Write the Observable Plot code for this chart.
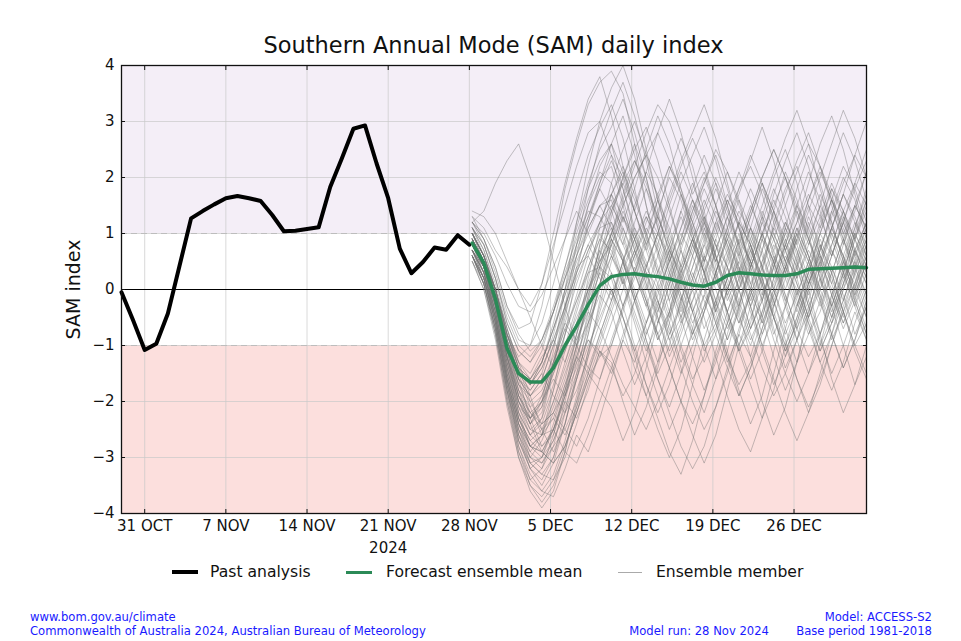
<!DOCTYPE html>
<html><head><meta charset="utf-8">
<script src="https://cdn.jsdelivr.net/npm/d3@7"></script>
<script src="https://cdn.jsdelivr.net/npm/@observablehq/plot@0.6"></script>
<style>
body{margin:0;background:#fff;}
#wrap{position:relative;width:961px;height:641px;font-family:"DejaVu Sans",sans-serif;overflow:hidden;}
#chart{position:absolute;left:0;top:0;}
#title{position:absolute;left:121px;width:745px;top:34px;line-height:23px;text-align:center;font-size:22.5px;color:#111;white-space:nowrap;}
.leg{position:absolute;top:563px;height:18px;line-height:18px;font-size:15.6px;color:#111;white-space:nowrap;}
.sw{position:absolute;top:572px;height:0;}
.foot{position:absolute;font-family:"DejaVu Sans Condensed","DejaVu Sans",sans-serif;font-stretch:condensed;font-size:12.9px;line-height:13px;height:13px;color:#1a1aff;white-space:nowrap;}
</style></head><body>
<div id="wrap">
  <div id="chart"></div>
  <div id="title">Southern Annual Mode (SAM) daily index</div>
  <div class="sw" style="left:172px;width:26px;border-top:4px solid #000;margin-top:-2px"></div>
  <div class="leg" style="left:210px">Past analysis</div>
  <div class="sw" style="left:346px;width:26px;border-top:3px solid #2b8a57;margin-top:-1px"></div>
  <div class="leg" style="left:386px">Forecast ensemble mean</div>
  <div class="sw" style="left:618px;width:24px;border-top:1px solid #aaa;"></div>
  <div class="leg" style="left:656px">Ensemble member</div>
  <div class="foot" style="left:30px;top:610px">www.bom.gov.au/climate</div>
  <div class="foot" style="left:30px;top:624px">Commonwealth of Australia 2024, Australian Bureau of Meteorology</div>
  <div class="foot" style="right:29px;top:610px;text-align:right">Model: ACCESS-S2</div>
  <div class="foot" style="right:29px;top:624px;text-align:right">Base period 1981-2018</div>
  <div class="foot" style="right:192px;top:624px;text-align:right">Model run: 28 Nov 2024</div>
</div>
<script>
// ---- data ----
const pastStart = "2024-10-29T00:00:00Z";
const pastValues = [-0.05,-0.55,-1.08,-0.97,-0.43,0.42,1.27,1.40,1.52,1.63,1.67,1.63,1.58,1.33,1.04,1.05,1.08,1.11,1.83,2.34,2.87,2.93,2.25,1.63,0.73,0.29,0.49,0.75,0.71,0.97,0.80];

const forecastStart = "2024-11-28T06:00:00Z";
const meanValues = [0.83,0.47,-0.17,-1.05,-1.50,-1.65,-1.65,-1.40,-1.00,-0.65,-0.27,0.07,0.23,0.27,0.28,0.25,0.23,0.19,0.13,0.08,0.06,0.13,0.25,0.30,0.28,0.26,0.25,0.25,0.28,0.36,0.37,0.38,0.39,0.40,0.39];

const ensembleMembers = [
[0.9,0.5,-0.2,-1.1,-1.8,-2.1,-1.9,-1.3,-0.6,0.1,0.7,1.1,1.2,0.5,-0.2,-0.8,-0.3,0.6,1.4,1.9,1.3,0.4,-0.5,-1.1,-0.6,0.3,1.2,1.8,2.2,1.5,0.6,0.1,0.8,1.5,1.1],
[0.8,0.4,-0.3,-1.3,-2.2,-2.8,-2.6,-1.8,-0.8,0.3,1.2,1.9,2.6,3.1,2.4,1.5,0.7,-0.2,-1.0,-1.6,-1.2,-0.3,0.6,1.2,0.8,0.1,-0.7,-1.4,-0.9,0.0,0.7,1.3,1.9,2.4,2.0],
[1.0,0.6,0.0,-0.8,-1.2,-1.0,-0.3,0.7,1.8,2.6,3.3,3.7,3.9,3.5,2.6,1.5,0.6,0.0,-0.6,-0.2,0.5,1.1,1.6,1.2,0.3,-0.5,-1.2,-1.8,-1.3,-0.4,0.4,1.0,0.6,-0.2,-0.8],
[0.6,0.2,-0.5,-1.6,-2.6,-3.2,-3.5,-3.1,-2.4,-1.6,-0.8,0.1,1.0,0.6,-0.1,-0.9,-1.6,-2.1,-1.5,-0.7,0.2,0.9,0.4,-0.4,-1.2,-2.0,-2.6,-2.1,-1.3,-0.5,0.2,-0.3,-1.0,-1.7,-1.2],
[0.9,0.5,-0.1,-0.9,-1.5,-1.7,-1.4,-0.9,-0.3,0.3,0.8,1.2,1.5,1.9,1.4,0.8,1.3,2.1,2.7,2.2,1.4,0.6,-0.2,0.3,1.1,1.8,1.3,0.7,1.2,1.9,2.6,3.1,2.5,1.7,1.0],
[0.6,0.2,-0.5,-1.4,-2.1,-2.3,-1.9,-1.3,-0.7,-0.2,0.3,0.4,0.0,-0.7,-1.4,-1.9,-1.3,-0.4,0.5,1.2,1.8,1.3,0.6,0.0,0.6,1.3,2.0,2.5,1.9,1.0,0.2,-0.5,0.1,0.9,1.6],
[0.8,0.5,0.0,-0.7,-1.3,-1.9,-2.5,-2.9,-2.4,-1.5,-0.6,0.4,1.3,2.0,2.6,2.0,1.1,0.3,-0.4,0.2,0.9,1.5,2.1,1.6,0.8,0.0,-0.8,-0.3,0.5,1.2,0.6,-0.1,-0.7,-0.2,0.5],
[1.2,0.9,0.3,-0.4,-0.9,-1.0,-0.6,0.1,0.9,1.7,2.4,2.9,3.3,2.7,1.8,0.9,0.3,0.8,1.4,0.9,0.1,-0.6,-1.3,-0.8,0.0,0.9,1.7,2.3,2.8,2.2,1.4,0.6,1.2,1.9,2.5],
[0.5,0.1,-0.7,-1.9,-2.9,-3.5,-3.8,-3.5,-2.9,-2.1,-1.2,-0.2,0.9,0.5,-0.2,-0.9,-1.5,-1.0,-0.2,0.6,1.3,0.8,0.1,-0.5,-1.0,-0.4,0.4,1.1,0.7,0.0,-0.8,-1.6,-2.2,-1.7,-1.0],
[1.0,0.6,0.0,-0.8,-1.4,-1.6,-1.3,-0.7,0.0,0.6,1.1,1.5,1.6,0.9,0.3,0.9,1.6,2.2,1.7,1.0,0.3,-0.4,0.2,0.9,1.5,1.0,0.4,-0.3,-0.9,-0.4,0.4,1.1,1.7,1.3,0.7],
[0.8,0.4,-0.2,-1.0,-1.7,-2.2,-2.4,-2.2,-1.8,-1.3,-0.9,-1.1,-1.3,-2.0,-2.6,-2.1,-1.4,-0.6,0.2,0.8,0.3,-0.4,-1.1,-1.8,-2.4,-1.9,-1.1,-0.3,0.4,0.9,0.4,-0.3,0.3,1.0,0.5],
[0.9,0.5,-0.2,-1.1,-1.9,-2.3,-2.0,-1.1,0.0,1.2,2.2,3.0,3.6,4.0,3.4,2.5,1.6,0.9,0.3,0.9,1.5,2.0,1.5,0.8,0.1,0.7,1.4,2.1,1.6,0.9,1.5,2.2,2.8,2.3,1.6],
[0.7,0.3,-0.4,-1.5,-2.4,-3.0,-3.2,-2.8,-2.0,-1.1,-0.1,0.8,1.5,1.1,0.5,-0.2,-0.9,-0.4,0.4,1.1,1.6,1.1,0.4,-0.3,0.4,1.0,0.5,-0.2,-0.9,-1.5,-1.0,-0.2,0.6,1.2,0.8],
[1.0,0.6,0.0,-0.9,-1.6,-1.8,-1.5,-0.8,0.0,0.8,1.5,2.0,2.2,1.5,0.7,0.0,0.6,1.3,1.9,2.4,2.9,2.3,1.5,0.7,0.0,-0.6,0.0,0.8,1.5,2.1,1.6,0.9,0.3,-0.3,0.3],
[0.6,0.1,-0.7,-1.8,-2.8,-3.4,-3.6,-3.3,-2.7,-1.9,-1.1,-0.4,0.3,-0.3,-1.0,-1.7,-2.3,-2.9,-3.3,-2.7,-1.9,-1.1,-0.4,0.2,-0.4,-1.1,-1.7,-1.2,-0.5,0.2,0.8,0.3,-0.4,-1.0,-0.6],
[1.1,0.8,0.2,-0.5,-1.0,-1.2,-0.9,-0.3,0.4,1.1,1.8,2.3,2.6,1.8,1.0,0.3,-0.4,0.2,0.9,1.6,1.1,0.5,1.1,1.8,2.4,1.9,1.2,0.5,-0.1,0.5,1.2,1.8,1.3,0.6,1.2],
[0.7,0.3,-0.4,-1.3,-2.0,-2.3,-2.0,-1.4,-0.8,-0.2,0.4,0.9,0.7,0.1,0.7,1.3,0.8,0.2,-0.5,-1.2,-1.8,-1.3,-0.6,0.1,0.8,1.4,0.9,0.3,0.9,1.6,2.2,1.7,1.0,0.4,-0.2],
[0.7,0.4,-0.1,-0.9,-1.6,-2.3,-2.8,-2.6,-1.8,-0.8,0.2,1.1,1.9,2.5,3.0,2.4,1.6,0.8,0.1,-0.6,-0.1,0.7,1.3,0.8,0.1,-0.5,0.2,0.9,0.4,-0.3,-1.0,-0.5,0.3,1.0,1.6],
[1.3,0.9,0.4,-0.3,-0.7,-0.6,0.1,1.0,1.9,2.7,3.4,3.8,3.1,2.2,1.4,2.1,2.8,3.4,2.8,2.0,1.2,0.5,1.1,1.7,2.3,2.9,2.3,1.5,0.8,1.4,2.0,2.6,3.2,2.7,2.0],
[0.8,0.4,-0.3,-1.2,-2.0,-2.5,-2.6,-2.3,-1.7,-1.2,-1.5,-1.8,-2.1,-2.7,-2.2,-1.4,-0.6,0.1,0.7,0.2,-0.5,-1.2,-1.9,-2.5,-2.9,-2.3,-1.5,-0.7,0.0,-0.6,-1.3,-0.8,0.0,0.7,0.3],
[0.9,0.5,-0.1,-1.0,-1.7,-1.9,-1.6,-1.0,-0.3,0.4,0.6,0.2,-0.2,0.5,1.2,1.8,1.3,0.7,0.0,0.6,1.2,1.8,1.3,0.6,-0.1,-0.8,-0.3,0.4,1.0,0.5,-0.2,-0.9,-0.4,0.3,0.9],
[1.2,1.4,1.9,2.3,2.6,2.0,1.3,0.5,-0.3,-1.0,-0.6,0.0,0.6,1.3,0.8,0.1,-0.6,-0.1,0.7,1.4,2.0,1.5,0.7,0.0,-0.7,-0.2,0.5,1.2,0.7,0.1,0.7,1.4,2.0,1.6,0.9],
[0.8,0.4,-0.3,-1.2,-2.0,-2.4,-2.1,-1.3,-0.3,0.8,1.8,2.6,3.2,3.7,3.1,2.3,1.4,0.6,-0.1,-0.7,-1.3,-0.8,0.0,0.7,1.3,1.9,1.4,0.7,0.1,-0.5,0.1,0.8,1.4,0.9,0.3],
[0.6,0.2,-0.6,-1.7,-2.6,-3.1,-3.3,-3.0,-2.4,-1.6,-0.8,0.1,0.8,1.4,0.9,0.2,-0.5,-1.2,-0.7,0.1,0.8,0.3,-0.4,-1.1,-1.7,-2.3,-1.8,-1.0,-0.3,0.4,1.0,1.6,1.1,0.5,-0.1],
[1.0,0.6,0.0,-0.8,-1.4,-1.6,-1.3,-0.7,-0.1,0.6,1.2,1.8,2.3,1.8,1.1,0.4,1.0,1.7,2.3,2.8,3.3,2.7,1.9,1.1,0.4,-0.2,0.4,1.1,1.8,2.4,1.9,1.2,0.5,1.1,1.8],
[0.8,0.5,0.0,-0.8,-1.5,-2.1,-2.6,-2.5,-1.9,-1.0,-0.1,0.5,0.8,0.1,-0.6,-1.3,-1.9,-2.5,-2.0,-1.2,-0.4,0.3,0.9,0.4,-0.3,-1.0,-1.6,-2.2,-2.7,-2.2,-1.5,-0.8,-0.2,0.5,1.1],
[1.2,1.0,0.6,0.1,-0.3,-0.4,-0.1,0.4,0.9,1.4,1.0,0.5,1.0,1.7,2.3,1.8,1.1,0.4,-0.2,0.4,1.1,0.6,0.0,-0.6,0.0,0.7,1.4,0.9,0.2,0.8,1.5,1.0,0.4,-0.2,-0.8],
[0.7,0.3,-0.5,-1.6,-2.5,-3.1,-3.0,-2.5,-1.8,-1.0,-0.2,0.8,1.7,2.2,1.7,1.0,0.3,-0.4,-1.1,-1.7,-2.2,-1.6,-0.8,0.0,0.7,0.2,-0.5,-1.1,-0.6,0.1,0.8,0.3,-0.4,-1.1,-1.6],
[1.4,1.3,1.0,0.5,0.0,-0.3,0.1,0.8,1.5,2.2,2.8,3.0,2.4,1.6,0.9,0.2,0.8,1.5,2.1,1.6,0.9,0.2,-0.4,0.2,0.9,1.5,2.1,2.7,3.2,2.6,1.8,1.1,1.7,2.4,3.0],
[0.7,0.3,-0.4,-1.4,-2.3,-2.8,-2.9,-2.5,-1.9,-1.2,-0.6,-0.1,-0.4,-1.1,-1.7,-1.2,-0.4,0.3,0.9,1.5,1.0,0.3,-0.4,-1.0,-1.6,-1.1,-0.3,0.4,1.1,0.6,-0.1,-0.8,-1.4,-0.9,-0.2],
[1.0,0.6,0.0,-0.9,-1.5,-1.7,-1.3,-0.6,0.2,1.0,1.6,2.1,1.9,1.2,1.8,2.5,3.1,2.6,1.8,1.0,0.3,0.9,1.5,2.1,1.6,0.9,0.2,0.8,1.4,0.9,0.2,-0.4,0.2,0.9,1.5],
[0.5,0.0,-0.8,-2.0,-3.0,-3.6,-3.9,-3.6,-2.9,-2.0,-1.1,-0.3,0.5,1.1,0.6,-0.1,-0.8,-1.4,-2.0,-2.6,-3.1,-2.6,-1.8,-1.0,-0.3,0.4,-0.2,-0.9,-1.6,-2.2,-1.7,-1.0,-0.3,0.3,-0.3],
[0.9,0.5,-0.2,-1.2,-2.1,-2.6,-2.3,-1.4,-0.4,0.6,1.5,2.2,2.6,2.1,1.4,0.7,0.1,-0.5,0.1,0.8,1.4,1.9,1.4,0.8,1.4,2.0,2.5,2.0,1.3,0.6,0.0,0.6,1.2,1.8,2.3],
[0.9,0.5,0.0,-0.7,-1.4,-2.0,-2.4,-2.2,-1.6,-0.8,0.0,0.7,1.1,0.5,-0.2,0.4,1.0,0.5,-0.2,-0.9,-0.4,0.3,1.0,1.6,1.1,0.4,-0.3,0.3,1.0,1.6,2.1,1.6,0.9,0.2,-0.4],
[1.1,0.8,0.2,-0.6,-1.1,-1.3,-1.0,-0.4,0.3,0.9,1.4,1.3,0.9,0.2,-0.5,-1.1,-0.6,0.1,0.8,1.4,1.9,2.4,1.8,1.1,0.4,1.0,1.6,1.1,0.5,-0.2,-0.8,-0.3,0.4,1.1,1.7],
[0.6,0.2,-0.6,-1.7,-2.7,-3.2,-3.4,-3.0,-2.2,-1.3,-0.4,0.6,1.4,2.0,2.5,2.9,2.3,1.5,0.7,0.0,-0.7,-0.2,0.5,1.2,1.8,1.3,0.6,-0.1,-0.7,-0.2,0.5,1.1,0.6,0.0,0.6],
[0.8,0.4,-0.3,-1.2,-1.9,-2.2,-2.0,-1.5,-1.0,-0.5,0.0,0.4,0.2,-0.5,-1.2,-1.9,-2.5,-3.0,-2.5,-1.7,-0.9,-0.2,0.4,1.0,0.5,-0.2,-0.9,-1.5,-2.0,-1.5,-0.8,-0.1,0.5,-0.1,-0.7],
[1.0,0.6,0.0,-0.8,-1.3,-1.5,-1.1,-0.4,0.4,1.2,1.9,2.5,2.9,3.4,2.8,2.0,1.2,0.5,1.1,1.8,2.4,1.9,1.1,0.4,-0.2,0.4,1.1,1.7,2.3,2.8,2.2,1.5,0.8,1.4,2.1],
[0.7,0.4,-0.2,-1.0,-1.8,-2.4,-2.9,-3.1,-2.8,-2.2,-1.6,-1.2,-1.0,-0.4,0.3,1.0,1.6,1.1,0.4,-0.3,-1.0,-1.6,-1.1,-0.3,0.4,1.0,0.5,-0.2,0.4,1.1,1.7,1.2,0.5,-0.1,0.5],
[0.9,0.5,-0.2,-1.1,-1.9,-2.4,-2.2,-1.4,-0.5,0.4,1.1,1.5,1.7,1.0,0.3,-0.3,0.3,1.0,1.7,1.2,0.5,-0.2,-0.9,-0.3,0.5,1.2,0.7,0.0,0.6,1.3,0.8,0.1,-0.5,0.1,0.8],
[0.7,0.2,-0.6,-1.7,-2.5,-3.0,-3.1,-2.8,-2.5,-2.0,-1.4,-1.6,-1.0,-0.3,0.4,-0.2,-0.9,-0.5,0.3,0.9,0.5,1.2,0.8,0.0,-0.7,-0.2,0.6,0.2,-0.4,0.3,1.0,0.6,1.3,0.9,0.4],
[1.0,0.5,-0.3,-1.2,-1.8,-2.2,-2.5,-2.3,-2.6,-2.1,-1.5,-0.8,-0.2,0.5,1.1,0.7,1.4,2.0,1.6,0.9,1.3,0.6,-0.1,0.4,-0.3,-1.0,-0.5,0.2,0.9,1.5,1.1,1.8,1.4,0.7,1.2],
[0.8,0.3,-0.5,-1.5,-2.3,-2.7,-2.9,-2.5,-2.0,-2.3,-1.8,-1.1,-1.5,-0.9,-0.2,0.4,0.0,-0.6,-1.3,-0.8,-0.1,-0.5,-1.2,-1.9,-1.4,-0.7,0.0,0.6,0.2,-0.5,-1.1,-0.6,0.1,0.7,0.2],
[1.1,0.7,0.1,-0.7,-1.3,-1.6,-1.2,-0.9,-1.3,-0.7,0.0,0.6,1.2,0.8,1.5,2.1,1.7,1.0,0.4,0.9,0.3,-0.4,0.2,0.9,0.5,1.2,1.8,1.3,0.6,0.1,0.7,1.4,0.9,0.3,0.8],
[0.6,0.1,-0.8,-1.9,-2.8,-3.3,-3.6,-3.7,-3.2,-2.6,-2.9,-2.3,-1.6,-0.9,-1.3,-0.6,0.1,0.7,0.3,-0.4,-1.1,-0.7,0.0,0.6,1.1,0.7,0.0,-0.7,-1.3,-0.8,-0.2,0.4,-0.1,-0.8,-0.3],
[0.9,0.4,-0.4,-1.3,-2.0,-2.4,-2.0,-1.6,-1.9,-1.4,-0.7,0.1,0.8,1.3,0.9,0.4,1.0,0.6,-0.1,-0.8,-0.3,0.3,1.0,0.6,1.3,1.9,1.4,0.8,0.2,0.7,0.3,-0.3,0.3,1.0,0.6],
[1.3,1.1,0.7,0.4,0.0,-0.5,-1.0,-1.4,-1.1,-0.6,0.0,0.5,1.0,1.6,2.2,2.8,3.3,3.0,2.4,1.7,2.1,1.5,0.8,0.2,0.7,1.3,0.9,0.3,-0.3,0.3,1.0,1.6,2.2,1.8,1.2],
[0.7,0.2,-0.7,-1.8,-2.7,-3.1,-3.3,-3.4,-3.0,-2.4,-1.7,-1.1,-1.4,-1.9,-1.5,-0.8,-0.2,-0.7,-1.4,-2.0,-2.5,-2.1,-1.5,-0.8,-1.2,-0.5,0.2,0.8,0.4,-0.3,-0.9,-1.5,-1.0,-0.4,-0.9],
[0.9,0.5,-0.2,-1.0,-1.6,-1.9,-1.7,-1.2,-0.6,-0.9,-0.3,0.3,-0.1,0.5,1.0,0.5,-0.2,-0.9,-0.5,0.2,0.8,1.4,1.0,0.3,0.8,0.2,-0.5,-1.2,-0.7,0.0,0.5,0.0,-0.6,0.0,0.7],
[0.5,0.0,-0.9,-2.1,-3.0,-3.5,-3.7,-3.4,-2.8,-2.2,-1.5,-0.9,-0.3,0.3,0.9,1.4,1.0,1.6,2.2,2.7,2.2,1.5,0.9,0.3,-0.3,0.2,0.8,0.4,-0.2,-0.8,-0.4,0.3,0.9,1.5,1.1],
[1.0,0.6,-0.1,-0.9,-1.5,-1.8,-1.5,-1.9,-2.2,-1.8,-1.2,-0.6,0.0,-0.5,-1.1,-1.7,-2.2,-1.7,-1.0,-0.4,0.2,-0.3,-0.9,-0.4,0.3,0.9,0.5,-0.1,-0.7,-1.2,-0.8,-0.1,0.5,0.1,-0.5],
[0.8,0.4,-0.4,-1.4,-2.2,-2.6,-2.4,-1.8,-1.1,-0.4,0.3,0.9,1.4,1.9,2.3,1.9,1.3,0.7,0.2,-0.4,0.1,0.7,1.3,1.8,2.2,1.7,1.0,0.5,1.1,0.6,0.0,-0.5,0.1,0.7,1.2],
[0.6,0.1,-0.7,-1.8,-2.6,-3.0,-2.7,-2.2,-2.5,-2.8,-2.3,-1.6,-0.9,-0.3,0.3,-0.2,-0.8,-1.4,-2.0,-2.4,-1.9,-1.2,-0.6,0.0,0.5,0.1,-0.5,-1.1,-0.6,0.1,0.6,0.2,-0.4,-1.0,-1.5],
[1.2,0.8,0.2,-0.6,-1.1,-1.3,-0.9,-0.4,0.2,0.8,1.3,1.8,1.4,0.8,0.3,-0.3,-0.8,-0.4,0.2,0.7,1.2,0.8,0.2,-0.3,-0.9,-0.4,0.1,0.7,1.2,1.7,1.3,0.7,0.2,0.6,1.1],
[0.9,0.4,-0.5,-1.6,-2.4,-2.9,-3.1,-2.7,-2.1,-1.5,-0.9,-1.2,-0.6,0.0,0.6,1.1,0.7,0.1,-0.5,0.0,0.6,1.2,1.7,1.3,0.7,0.1,-0.5,-1.0,-0.5,0.1,0.6,1.1,0.6,0.0,-0.5],
[0.7,0.3,-0.5,-1.5,-2.3,-2.8,-2.6,-2.1,-1.5,-0.9,-0.4,-0.7,-1.2,-1.7,-2.1,-2.5,-2.0,-1.4,-0.8,-0.2,0.3,0.8,0.4,-0.2,-0.8,-1.4,-1.9,-1.5,-0.9,-0.3,0.2,0.7,0.3,-0.3,-0.9],
[1.1,0.7,0.0,-0.8,-1.4,-1.7,-1.4,-0.9,-0.3,0.3,0.8,0.4,0.9,1.5,2.0,2.4,2.0,1.4,0.8,1.3,1.9,2.5,2.1,1.5,0.9,0.4,0.9,1.5,2.1,2.6,2.2,1.6,1.0,1.5,2.1],
[0.8,0.3,-0.6,-1.7,-2.5,-2.9,-2.6,-2.0,-1.3,-0.6,0.1,0.7,0.3,-0.3,0.2,0.8,1.3,0.8,0.2,-0.4,-1.0,-0.6,0.0,0.5,0.0,-0.6,-0.1,0.5,1.0,0.5,-0.1,-0.6,-0.2,0.4,0.9],
[0.6,0.1,-0.8,-2.0,-2.9,-3.4,-3.2,-2.6,-1.9,-1.2,-0.5,0.1,0.6,0.2,-0.4,-1.0,-1.6,-2.2,-2.8,-3.2,-2.8,-2.1,-1.4,-0.7,-0.1,0.5,1.0,0.5,-0.1,-0.7,-1.3,-1.8,-1.3,-0.6,0.0],
[1.0,0.6,-0.1,-1.0,-1.6,-1.9,-1.6,-1.0,-0.4,0.2,0.7,1.2,1.7,2.1,1.6,1.0,0.4,-0.2,0.3,0.9,0.4,-0.2,-0.7,-0.2,0.4,1.0,1.5,2.0,1.5,0.9,0.3,0.8,1.4,1.9,1.5],
[0.7,0.2,-0.6,-1.6,-2.4,-2.8,-2.9,-3.1,-2.8,-2.2,-1.6,-1.0,-0.4,0.2,0.7,0.3,-0.3,-0.9,-1.5,-1.0,-0.4,0.2,0.7,1.2,0.8,0.2,-0.4,-1.0,-1.6,-2.1,-1.6,-1.0,-0.4,0.1,0.6],
[0.9,0.5,-0.3,-1.2,-1.9,-2.3,-2.1,-1.5,-0.8,-0.1,0.6,1.2,1.7,1.3,0.7,0.1,-0.5,-1.1,-0.6,0.0,0.6,0.2,-0.4,-1.0,-0.5,0.1,0.7,1.2,0.8,0.2,-0.3,0.3,0.9,0.4,-0.1],
[1.2,0.9,0.4,-0.3,-0.8,-1.1,-0.9,-0.4,0.2,0.7,1.3,1.9,2.4,2.0,1.4,0.8,0.2,0.7,1.3,0.8,0.3,-0.3,0.2,0.8,1.4,2.0,2.5,2.0,1.4,0.8,1.3,1.9,1.4,0.9,1.4],
[0.6,0.2,-0.6,-1.6,-2.4,-2.8,-3.0,-2.7,-2.2,-1.6,-1.0,-0.5,0.0,-0.5,-1.1,-0.6,0.0,0.5,1.0,0.6,0.0,-0.6,-1.2,-1.7,-1.3,-0.7,-0.1,0.4,0.0,-0.6,-1.1,-0.6,0.0,0.5,0.1],
[0.8,0.4,-0.3,-1.3,-2.1,-2.5,-2.3,-1.7,-1.0,-0.3,0.4,1.0,0.6,0.1,0.6,1.2,1.7,2.2,1.8,1.2,0.6,0.0,-0.6,-1.1,-0.7,-0.1,0.5,1.0,1.5,1.1,0.5,-0.1,-0.6,-0.1,0.5],
[1.0,0.5,-0.2,-1.1,-1.7,-2.0,-1.8,-1.3,-0.7,-1.0,-1.4,-0.8,-0.2,0.4,0.9,1.3,0.9,0.3,-0.3,-0.8,-0.3,0.3,0.9,1.4,1.0,0.4,-0.2,-0.8,-0.3,0.3,0.9,0.4,-0.2,0.4,1.0],
[0.7,0.3,-0.5,-1.5,-2.3,-2.7,-2.5,-2.0,-1.4,-0.8,-0.2,0.4,1.0,1.5,2.0,2.4,2.8,2.3,1.7,1.1,0.5,1.0,1.6,1.1,0.5,-0.1,0.4,1.0,0.5,-0.1,0.5,1.1,1.7,1.2,0.6],
[0.9,0.4,-0.4,-1.4,-2.2,-2.6,-2.8,-2.5,-2.9,-3.1,-2.6,-2.0,-1.4,-0.8,-0.2,0.3,-0.2,-0.8,-0.3,0.3,-0.2,-0.8,-1.4,-1.9,-1.4,-0.8,-0.2,0.4,0.9,0.4,-0.2,-0.8,-1.4,-0.9,-0.3],
[1.1,0.6,-0.1,-0.9,-1.5,-1.7,-1.3,-0.7,-0.1,0.5,1.0,1.5,1.1,0.6,0.0,-0.6,-0.1,0.5,1.1,1.6,1.2,0.6,0.0,0.5,1.1,0.6,0.0,-0.6,-0.1,0.5,1.1,1.6,1.2,0.6,0.1],
[0.6,0.1,-0.7,-1.8,-2.7,-3.2,-3.0,-2.4,-1.7,-1.0,-0.3,0.3,0.9,0.5,-0.1,-0.7,-1.3,-0.8,-0.2,0.4,1.0,0.5,-0.1,-0.6,-0.1,0.5,1.1,0.7,0.1,-0.5,0.0,0.6,1.2,0.7,0.2]
];

const yTicks = [-4,-3,-2,-1,0,1,2,3,4];
const bandEdges = [-1, 1];
const bands = [
  {lo: 1, hi: 4, color: "#f4eef7"},
  {lo: -4, hi: -1, color: "#fcdfdd"}
];
const tickDateStrings = ["2024-10-31","2024-11-07","2024-11-14","2024-11-21","2024-11-28","2024-12-05","2024-12-12","2024-12-19","2024-12-26"];
const tickLabels = ["31 OCT","7 NOV","14 NOV","21 NOV\n2024","28 NOV","5 DEC","12 DEC","19 DEC","26 DEC"];

// ---- build tables ----
const t0 = new Date(pastStart);
const f0 = new Date(forecastStart);
const past = pastValues.map((v, i) => ({date: d3.utcDay.offset(t0, i), value: v}));
const fDate = k => d3.utcHour.offset(f0, 24 * k);
const mean = meanValues.map((v, k) => ({date: fDate(k), value: v}));
const members = ensembleMembers.flatMap((row, m) => row.map((v, k) => ({member: m, date: fDate(k), value: v})));
const tickDates = tickDateStrings.map(s => new Date(s + "T00:00:00Z"));
const labelMap = new Map(tickDates.map((d, i) => [+d, tickLabels[i]]));
const xDomain = d3.extent([...past, ...mean], d => d.date);

const chart = Plot.plot({
  width: 961, height: 641,
  marginLeft: 121, marginRight: 95, marginTop: 65, marginBottom: 128,
  style: {fontFamily: "DejaVu Sans", fontSize: "15px", color: "#111", background: "transparent"},
  x: {type: "utc", domain: xDomain},
  y: {domain: [-4, 4]},
  marks: [
    Plot.rect(bands, {y1: "lo", y2: "hi", fill: "color"}),
    Plot.gridX(tickDates, {stroke: "#c9c9c9", strokeOpacity: 0.7}),
    Plot.gridY(yTicks, {stroke: "#c9c9c9", strokeOpacity: 0.7}),
    Plot.ruleY(bandEdges, {stroke: "#bdbdbd", strokeDasharray: "6,4"}),
    Plot.ruleY([0], {stroke: "#000", strokeWidth: 1.2}),
    Plot.line(members, {x: "date", y: "value", z: "member", stroke: "#707070", strokeOpacity: 0.42, strokeWidth: 1}),
    Plot.line(past, {x: "date", y: "value", stroke: "#000", strokeWidth: 4}),
    Plot.line(mean, {x: "date", y: "value", stroke: "#2b8a57", strokeWidth: 3.5}),
    Plot.frame({stroke: "#111", strokeWidth: 1.3}),
    Plot.axisX({ticks: tickDates, tickFormat: d => labelMap.get(+d), tickSize: -4, tickPadding: 6, lineHeight: 1.45, label: null, fontSize: 15}),
    Plot.axisX({anchor: "top", ticks: tickDates, tickSize: -4, tickFormat: () => "", label: null}),
    Plot.axisY({ticks: yTicks, tickSize: -4, tickPadding: 11, label: null, fontSize: 15}),
    Plot.axisY({anchor: "right", ticks: yTicks, tickSize: -4, tickFormat: () => "", label: null}),
    Plot.text(["SAM index"], {frameAnchor: "left", textAnchor: "middle", dx: -48, rotate: -90, fontSize: 19, fill: "#111"})
  ]
});
document.getElementById("chart").appendChild(chart);
</script>
</body></html>
